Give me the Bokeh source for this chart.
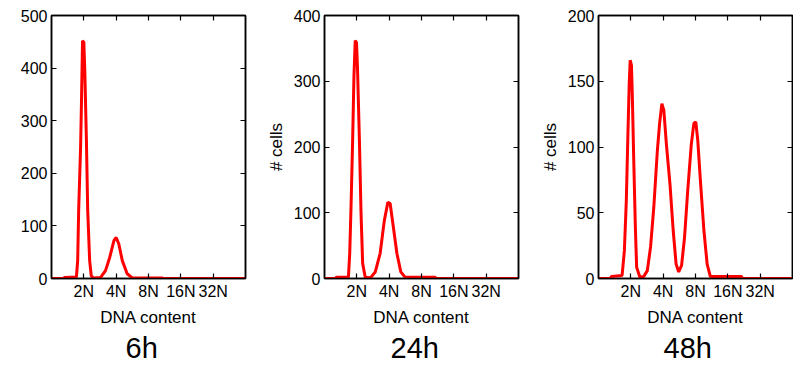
from bokeh.plotting import figure
from bokeh.layouts import row
from bokeh.models import Range1d, FixedTicker, LinearAxis, Title, CustomLabelingPolicy
from bokeh.embed import file_html
from bokeh.resources import INLINE

# x positions are log2 of DNA content in units of N (1 = 2N, 2 = 4N, ...)
tick_pos = [1, 2, 3, 4, 5]
tick_labels = ["2N", "4N", "8N", "16N", "32N"]

x_6h = [0.0, 0.37, 0.40, 0.77, 0.81, 0.84, 0.90, 0.93, 0.96, 1.00, 1.03, 1.08,
        1.12, 1.18, 1.23, 1.30, 1.52, 1.67, 1.80, 1.93, 2.00, 2.08, 2.19, 2.34,
        2.50, 3.43, 3.46, 6.0]
y_6h = [0, 0, 2, 3, 34, 129, 250, 345, 452, 449, 395, 262,
        129, 34, 5, 1, 2, 15, 40, 72, 78, 66, 34, 9,
        1, 1, 0, 0]

x_24h = [0.0, 0.34, 0.37, 0.74, 0.78, 0.82, 0.87, 0.91, 0.95, 0.99, 1.02, 1.08,
         1.13, 1.18, 1.26, 1.42, 1.57, 1.72, 1.85, 1.96, 2.03, 2.13, 2.24, 2.36,
         2.49, 3.42, 3.45, 6.0]
y_24h = [0, 0, 2, 2, 38, 108, 210, 306, 362, 359, 321, 210,
         99, 23, 2, 1, 10, 38, 88, 116, 114, 78, 38, 10,
         2, 2, 0, 0]

x_48h = [0.0, 0.37, 0.40, 0.73, 0.80, 0.86, 0.91, 0.95, 0.98, 1.02, 1.05, 1.09,
         1.14, 1.18, 1.28, 1.40, 1.51, 1.61, 1.71, 1.82, 1.89, 1.96, 2.02, 2.10,
         2.21, 2.31, 2.40, 2.48, 2.57, 2.66, 2.76, 2.87, 2.95, 3.01, 3.07, 3.15,
         3.26, 3.36, 3.46, 4.42, 4.45, 6.0]
y_48h = [0, 0, 1.5, 2.3, 21, 59, 110, 148, 166, 162, 135, 90,
         39, 8.6, 1, 1.5, 6, 24, 54, 97, 118, 133, 128, 102,
         72, 36.5, 11, 5, 10, 31, 67, 102, 118, 119, 105, 75,
         36.5, 11, 1.5, 1.5, 0, 0]

panel_titles = ["6h", "24h", "48h"]
y_max = [500, 400, 200]
y_ticks = [[0, 100, 200, 300, 400, 500],
           [0, 100, 200, 300, 400],
           [0, 50, 100, 150, 200]]
y_label = ["", "# cells", "# cells"]

FONT = "Liberation Sans"

NO_LABELS = """
const all = []
for (const i of indices) all.push(i)
for (const i of all) indices.unset(i)
return indices
"""


def style_axis(ax):
    ax.major_tick_in = 5
    ax.major_tick_out = 0
    ax.minor_tick_in = 0
    ax.minor_tick_out = 0
    ax.axis_line_color = "black"
    ax.axis_line_width = 1.5
    ax.major_tick_line_width = 1.2
    ax.major_tick_line_color = "black"


def make_panel(xs, ys, title, ymax, yticks, ylab, bl, br, title_offset):
    p = figure(frame_width=194, frame_height=263, output_backend="svg",
               toolbar_location=None, x_range=Range1d(0, 6), y_range=Range1d(0, ymax),
               min_border_left=bl, min_border_right=br, min_border_top=15,
               min_border_bottom=0)
    p.line(xs, ys, line_color="#ff0000", line_width=3)
    p.xgrid.visible = False
    p.ygrid.visible = False
    p.outline_line_color = "black"
    p.outline_line_width = 1.5
    p.background_fill_color = "white"
    p.border_fill_color = "white"

    xa = p.xaxis[0]
    xa.ticker = FixedTicker(ticks=tick_pos)
    xa.major_label_overrides = {t: l for t, l in zip(tick_pos, tick_labels)}
    xa.axis_label = "DNA content"
    ya = p.yaxis[0]
    ya.ticker = FixedTicker(ticks=yticks)
    if ylab:
        ya.axis_label = ylab
    for ax in (xa, ya):
        style_axis(ax)
        ax.major_label_text_font = FONT
        ax.major_label_text_font_size = "16px"
        ax.major_label_text_color = "black"
        ax.major_label_standoff = 4
        ax.axis_label_text_font = FONT
        ax.axis_label_text_font_size = "17px"
        ax.axis_label_text_font_style = "normal"
        ax.axis_label_text_color = "black"
        ax.axis_label_standoff = 5

    top = LinearAxis(ticker=FixedTicker(ticks=tick_pos))
    right = LinearAxis(ticker=FixedTicker(ticks=yticks))
    for ax in (top, right):
        style_axis(ax)
        ax.major_label_policy = CustomLabelingPolicy(code=NO_LABELS)
        ax.major_label_text_font_size = "0px"
        ax.major_label_standoff = 0
    p.add_layout(top, "above")
    p.add_layout(right, "right")

    t = Title(text=title, align="left", text_font=FONT, text_font_size="29px",
              text_font_style="normal", text_color="black", offset=title_offset,
              standoff=0)
    p.add_layout(t, "below")
    return p


p1 = make_panel(x_6h, y_6h, panel_titles[0], y_max[0], y_ticks[0], y_label[0], 51, 17, 74)
p2 = make_panel(x_24h, y_24h, panel_titles[1], y_max[1], y_ticks[1], y_label[1], 62, 18, 66)
p3 = make_panel(x_48h, y_48h, panel_titles[2], y_max[2], y_ticks[2], y_label[2], 62, 1, 65)

layout = row(p1, p2, p3)
open("out.html", "w").write(file_html(layout, INLINE))
